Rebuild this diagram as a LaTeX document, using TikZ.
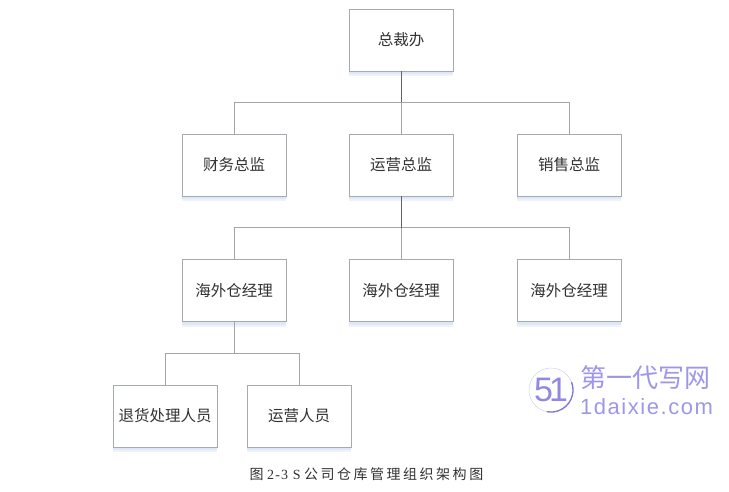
\documentclass[tikz,border=0pt]{standalone}
\usepackage{fontspec}
\setmainfont{Liberation Serif}
\newfontfamily\cjk{Noto Sans CJK SC}
\newfontfamily\cjkcap[LetterSpace=18]{Noto Sans CJK SC}
\newfontfamily\capl[LetterSpace=8]{Liberation Serif}
\newfontfamily\wm[LetterSpace=7]{Liberation Sans}
\newfontfamily\wmlogo{Liberation Sans}
\usetikzlibrary{shadows}
\definecolor{boxline}{RGB}{165,170,176}
\definecolor{conn}{RGB}{165,165,165}
\definecolor{darkconn}{RGB}{100,100,100}
\definecolor{shadea}{RGB}{238,243,251}
\definecolor{shadeb}{RGB}{222,232,247}
\definecolor{wmark}{RGB}{125,115,225}
\definecolor{ink}{RGB}{50,50,50}
\tikzset{
  orgbox/.style={draw=boxline,line width=0.9pt,fill=white,minimum width=104pt,minimum height=62pt,
    inner sep=0pt,text=ink,font=\fontsize{15.5}{17}\selectfont\cjk,
    drop shadow={shadow xshift=0pt,shadow yshift=-5pt,fill=shadea,opacity=1},
    drop shadow={shadow xshift=0pt,shadow yshift=-3pt,fill=shadeb,opacity=1}},
  link/.style={draw=conn,line width=0.9pt},
  toplink/.style={draw=darkconn,line width=0.9pt},
  capt/.style={inner sep=0pt,text=ink,font=\fontsize{14}{15}\selectfont},
  wmtext/.style={inner sep=0pt,text=wmark!75,anchor=west}
}
\begin{document}
\begin{tikzpicture}[x=1pt,y=-1pt]
\useasboundingbox (0,0) rectangle (729,491);
\node[orgbox] (ceo) at (401,40) {总裁办};
\node[orgbox] (fin) at (234,165) {财务总监};
\node[orgbox] (ops) at (401,165) {运营总监};
\node[orgbox] (sal) at (569,165) {销售总监};
\node[orgbox] (wha) at (234,290.5) {海外仓经理};
\node[orgbox] (whb) at (401,290.5) {海外仓经理};
\node[orgbox] (whc) at (569,290.5) {海外仓经理};
\node[orgbox] (ret) at (165,416) {退货处理人员};
\node[orgbox] (opp) at (299,416) {运营人员};
\coordinate (busa) at (401,102);
\coordinate (busb) at (401,227.5);
\coordinate (busc) at (234,353);
\draw[link] (busa) -| (fin.north);
\draw[link] (busa) -| (sal.north);
\draw[link] (busa) -- (ops.north);
\draw[toplink] (ceo.south) -- (busa);
\draw[link] (busb) -| (wha.north);
\draw[link] (busb) -| (whc.north);
\draw[link] (busb) -- (whb.north);
\draw[toplink] (ops.south) -- (busb);
\draw[link] (busc) -| (ret.north);
\draw[link] (busc) -| (opp.north);
\draw[link] (wha.south) -- (busc);
\node[capt] (cap) at (366.5,474) {{\cjkcap 图} {\capl 2-3 S} {\cjkcap 公司仓库管理组织架构图}};
% watermark
\draw[wmark!35,line width=0.5pt] (551,390) circle (22);
\draw[wmark,line width=1.3pt,line cap=round] (571.7,382.5) arc[start angle=-20,end angle=100,radius=22];
\node[inner sep=0pt,text=wmark!85,font=\fontsize{34}{34}\selectfont\wmlogo] (logo) at (551,390) {5\kern-4pt 1};
\node[wmtext,font=\fontsize{26}{28}\selectfont\cjk] (wmcn) at (580,378) {第一代写网};
\node[wmtext,font=\fontsize{22}{24}\selectfont\wm] (wmen) at (580,407) {1daixie.com};
\end{tikzpicture}
\end{document}
